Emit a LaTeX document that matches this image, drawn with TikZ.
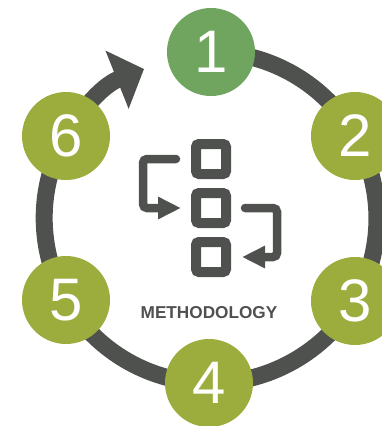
\documentclass[tikz,border=0pt]{standalone}
\usepackage{fontspec}
\setmainfont{Liberation Sans}
\usepackage{xcolor}
\usetikzlibrary{arrows.meta, backgrounds}
\definecolor{ringgray}{RGB}{79,81,78}
\definecolor{stepolive}{RGB}{156,173,62}
\definecolor{stepgreen}{RGB}{111,165,95}

\begin{document}
\begin{tikzpicture}[
    x=1pt,
    y=-1pt,
    stepnode/.style={circle, fill=stepolive, text=white, minimum size=88pt, inner sep=0pt, font=\fontsize{60}{60}\selectfont},
    listbox/.style={draw=ringgray, line width=10pt, rounded corners=3pt, minimum size=30pt, inner sep=0pt},
    ring/.style={draw=ringgray, line width=17pt, looseness=0.91},
    flow/.style={draw=ringgray, line width=8.5pt, line cap=round, rounded corners=4pt, -{Triangle[length=23pt,width=21pt]}}
]
    \useasboundingbox (0,0) rectangle (382,426);

    % Steps
    \node[stepnode, fill=stepgreen] (s1) at (211,52) {1};
    \node[stepnode] (s2) at (355,136) {2};
    \node[stepnode] (s3) at (355,301) {3};
    \node[stepnode] (s4) at (209,383) {4};
    \node[stepnode] (s5) at (66,300) {5};
    \node[stepnode] (s6) at (66,136) {6};
    \coordinate (tip) at (144,69);

    % Ring
    \begin{scope}[on background layer]
        \foreach \a/\b in {s1/s2, s2/s3, s3/s4, s4/s5, s5/s6}
            \draw[ring] (\a.center) to[bend left=30] (\b.center);
        \draw[ring, -{Triangle[length=29pt,width=61pt]}, looseness=1] (s6.center) to[bend left=19] (tip);
    \end{scope}

    % Icon
    \node[listbox] (top) at (211,159) {};
    \node[listbox] (mid) at (211,208) {};
    \node[listbox] (bot) at (211,257) {};
    \draw[flow, shorten <=15pt, shorten >=10pt] (top.west) -- ++(-48,0) |- (mid.west);
    \draw[flow, shorten <=14pt, shorten >=11pt] (mid.east) -- ++(46,0) |- (bot.east);

    % Label
    \node[font=\fontsize{17.2}{17.2}\selectfont\bfseries, text=ringgray, inner sep=0pt] (title) at (209,313) {METHODOLOGY};
\end{tikzpicture}
\end{document}
